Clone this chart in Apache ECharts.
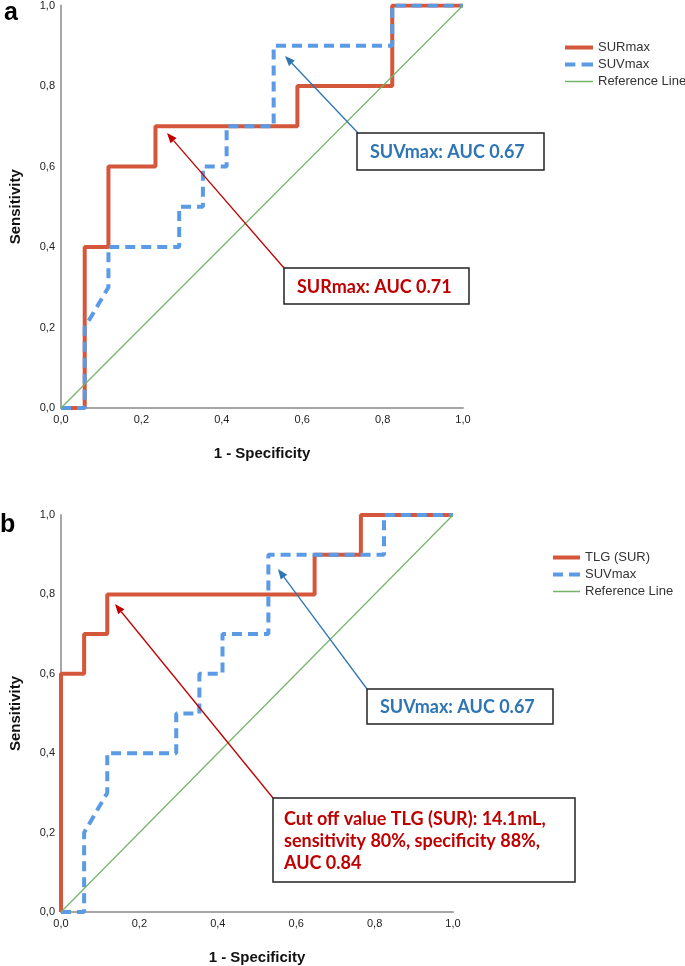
<!DOCTYPE html>
<html>
<head>
<meta charset="utf-8">
<script src="https://cdn.jsdelivr.net/npm/echarts@6/dist/echarts.min.js"></script>
<style>
html,body{margin:0;padding:0;background:#fff;}
#chart{width:685px;height:966px;}
</style>
</head>
<body>
<div id="chart"></div>
<script>
// ---- Data ----
const axisTicks = [0, 0.2, 0.4, 0.6, 0.8, 1.0];
// Panel a
const surmaxA = [[0,0],[0.059,0],[0.059,0.4],[0.118,0.4],[0.118,0.6],[0.235,0.6],[0.235,0.7],[0.588,0.7],[0.588,0.8],[0.824,0.8],[0.824,1],[1,1]];
const suvmaxA = [[0,0],[0.059,0],[0.059,0.2],[0.118,0.3],[0.118,0.4],[0.294,0.4],[0.294,0.5],[0.353,0.5],[0.353,0.6],[0.412,0.6],[0.412,0.7],[0.529,0.7],[0.529,0.9],[0.824,0.9],[0.824,1],[1,1]];
// Panel b
const tlgB = [[0,0],[0,0.6],[0.059,0.6],[0.059,0.7],[0.118,0.7],[0.118,0.8],[0.647,0.8],[0.647,0.9],[0.765,0.9],[0.765,1],[1,1]];
const suvmaxB = [[0,0],[0.059,0],[0.059,0.2],[0.118,0.3],[0.118,0.4],[0.294,0.4],[0.294,0.5],[0.353,0.5],[0.353,0.6],[0.412,0.6],[0.412,0.7],[0.529,0.7],[0.529,0.9],[0.824,0.9],[0.824,1],[1,1]];
const refLine = [[0,0],[1,1]];
const legendA = ['SURmax','SUVmax','Reference Line'];
const legendB = ['TLG (SUR)','SUVmax','Reference Line'];
const noteA1 = 'SUVmax: AUC 0.67';
const noteA2 = 'SURmax: AUC 0.71';
const noteB1 = 'SUVmax: AUC 0.67';
const noteB2 = 'Cut off value TLG (SUR): 14.1mL,\nsensitivity 80%, specificity 88%,\nAUC 0.84';

// ---- Styles ----
const RED = '#d5573b', BLUE = '#5b9ae4', GREEN = '#74b467';
const DRED = '#c00000', DBLUE = '#2e75b6';
const fmt = v => v.toFixed(1).replace('.', ',');
const ICONS = {
  solid: 'path://M0,0h27v4h-27z',
  dashed: 'path://M0,0h10v4h-10z M16,0h11v4h-11z',
  thin: 'path://M0,0h0.01v4h-0.01z M0,1.2h27v1.6h-27z'
};

function xAx(gi){
  return {gridIndex:gi, type:'value', min:0, max:1, interval:0.2,
    axisLine:{show:true, onZero:false, lineStyle:{color:'#a6a6a6', width:2}},
    axisTick:{show:false}, splitLine:{show:false},
    axisLabel:{formatter:fmt, color:'#222', fontSize:11, fontFamily:'Liberation Sans', margin:6},
    name:'1 - Specificity', nameLocation:'middle', nameGap:38,
    nameTextStyle:{fontWeight:'bold', fontSize:15, color:'#111', fontFamily:'Liberation Sans'}};
}
function yAx(gi){
  return {gridIndex:gi, type:'value', min:0, max:1, interval:0.2,
    axisLine:{show:true, onZero:false, lineStyle:{color:'#a6a6a6', width:2}},
    axisTick:{show:false}, splitLine:{show:false},
    axisLabel:{formatter:fmt, color:'#222', fontSize:11, fontFamily:'Liberation Sans', margin:6},
    name:'Sensitivity', nameLocation:'middle', nameGap:38, nameRotate:90,
    nameTextStyle:{fontWeight:'bold', fontSize:15, color:'#111', fontFamily:'Liberation Sans'}};
}
function ser(name, data, gi, color, width, type){
  return {name, type:'line', data, xAxisIndex:gi, yAxisIndex:gi, showSymbol:false, symbol:'none',
    lineStyle:{color, width, type}, itemStyle:{color}, animation:false};
}
function legend(names, left, top, w){
  const kinds = ['solid','dashed','thin'];
  const cols = [RED, BLUE, GREEN];
  return {data: names.map((n,i)=>({name:n, icon:ICONS[kinds[i]], itemStyle:{color:cols[i]}})),
    orient:'vertical', left, top, itemWidth:w, itemHeight:4, itemGap:4, symbolKeepAspect:false,
    textStyle:{fontSize:13, color:'#333', fontFamily:'Liberation Sans'}, selectedMode:false};
}

function arrow(x1,y1,x2,y2,color){
  const dx=x2-x1, dy=y2-y1, L=Math.hypot(dx,dy), ux=dx/L, uy=dy/L;
  const hl=10, hw=4;
  const bx=x2-ux*hl, by=y2-uy*hl;
  return [
    {type:'line', shape:{x1, y1, x2:bx, y2:by}, style:{stroke:color, lineWidth:1.3}, z:20},
    {type:'polygon', shape:{points:[[x2,y2],[bx-uy*hw,by+ux*hw],[bx+uy*hw,by-ux*hw]]}, style:{fill:color}, z:20}
  ];
}
function box(x,y,w,h,text,color,lh,pad){
  return [
    {type:'rect', shape:{x,y,width:w,height:h}, style:{fill:'#fff', stroke:'#222', lineWidth:1.5}, z:21},
    {type:'text', x:x+(pad||13), y:y+h/2+1, z:22, style:{text, fill:color, font:'bold 18px Lato', verticalAlign:'middle', lineHeight:lh||20}}
  ];
}

const chart = echarts.init(document.getElementById('chart'), null, {renderer:'canvas'});
const graphic = [
  {type:'text', left:4, top:1, style:{text:'a', font:'bold 25px Liberation Sans', fill:'#000'}},
  {type:'text', left:0, top:513, style:{text:'b', font:'bold 25px Liberation Sans', fill:'#000'}},
  ...arrow(358,133,285,56,DBLUE),
  ...arrow(284,268,167,133,DRED),
  ...arrow(367,689,278,569,DBLUE),
  ...arrow(273,798,115,604,DRED),
  ...box(357,133,187,37,noteA1,DBLUE),
  ...box(284,268,185,36,noteA2,DRED),
  ...box(367,689,186,35,noteB1,DBLUE),
  ...box(273,798,302,84,noteB2,DRED,22,11)
];

chart.setOption({
  animation:false,
  grid:[{left:59, top:4, width:404, height:404},{left:54, top:515, width:399, height:398}],
  xAxis:[xAx(0), xAx(1)],
  yAxis:[yAx(0), yAx(1)],
  legend:[legend(legendA, 560, 36, 28), legend(legendB, 548, 546, 27)],
  series:[
    ser('SURmax', surmaxA, 0, RED, 4, 'solid'),
    ser('SUVmax', suvmaxA, 0, BLUE, 4, [10,6]),
    ser('Reference Line', refLine, 0, GREEN, 1.2, 'solid'),
    ser('TLG (SUR)', tlgB, 1, RED, 4, 'solid'),
    ser('SUVmax', suvmaxB, 1, BLUE, 4, [10,6]),
    ser('Reference Line', refLine, 1, GREEN, 1.2, 'solid')
  ],
  graphic
});
</script>
</body>
</html>
